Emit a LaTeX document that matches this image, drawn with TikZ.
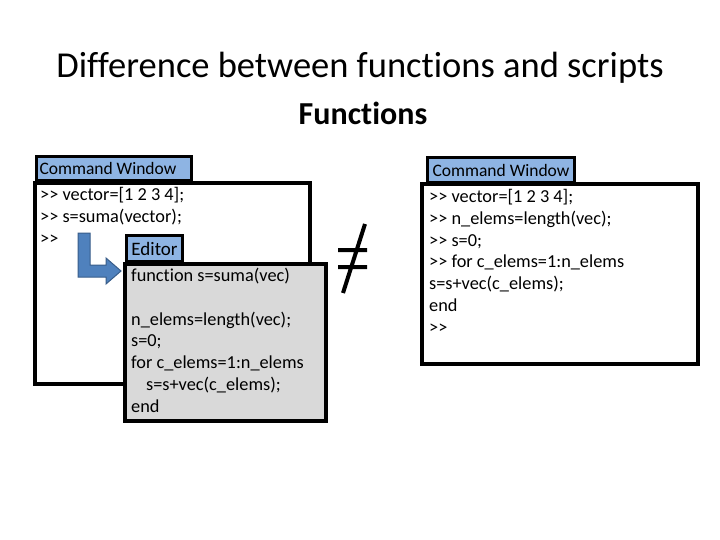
\documentclass[tikz,border=0pt]{standalone}
\usepackage{fontspec}
\setmainfont[Ligatures={NoCommon}]{Carlito}
\definecolor{lblue}{HTML}{8EB4E3}
\definecolor{egrey}{HTML}{D9D9D9}
\definecolor{arrblue}{HTML}{4F81BD}
\definecolor{arredge}{HTML}{385D8A}
\begin{document}
\begin{tikzpicture}[x=1pt,y=-1pt,
  win/.style={draw=black,line width=3.5pt},
  lbl/.style={draw=black,line width=3pt,fill=lblue,anchor=north west,inner sep=0pt,font=\fontsize{17.5}{18}\selectfont},
  code/.style={anchor=north west,align=left,font=\fontsize{18.3}{21.8}\selectfont,inner sep=0pt}]
\useasboundingbox (0,0) rectangle (720,540);
\node (title) at (360,68) {\fontsize{36.5}{40}\selectfont Difference between functions and scripts};
\node (sub) at (363,113) {\fontsize{32}{36}\selectfont\bfseries Functions};
% left command window
\draw[win,fill=white] (35,183) rectangle (310,384);
\node[lbl,minimum width=155pt,minimum height=24pt] (lcw) at (35,155) {\makebox[149pt][l]{Command Window}};
\node[code] (lcode) at (40,187) {>{}> vector=[1 2 3 4];\\>{}> s=suma(vector);\\>{}>};
% arrow
\draw[arredge,fill=arrblue,line width=1pt] (78,233) -- (90,233) -- (90,265) -- (106,265) -- (106,258) -- (121,271) -- (106,284) -- (106,277) -- (78,277) -- cycle;
% editor
\draw[win,fill=egrey] (125,264) rectangle (326,421);
\node[lbl,minimum width=56pt,minimum height=26pt] (ed) at (125,234) {\fontsize{19}{19}\selectfont Editor};
\node[code] (ecode) at (131,268) {function s=suma(vec)\\[21.8pt]n\_elems=length(vec);\\s=0;\\for c\_elems=1:n\_elems\\\hspace{15pt}s=s+vec(c\_elems);\\end};
% neq
\draw[line width=4pt] (338,250) -- (367,250) (338,267) -- (367,267) (365,224) -- (343,293);
% right window
\draw[win,fill=white] (422,184) rectangle (698,364);
\node[lbl,minimum width=147pt,minimum height=25pt] (rcw) at (426,156) {Command Window};
\node[code] (rcode) at (429,189) {>{}> vector=[1 2 3 4];\\>{}> n\_elems=length(vec);\\>{}> s=0;\\>{}> for c\_elems=1:n\_elems\\s=s+vec(c\_elems);\\end\\>{}>};
\end{tikzpicture}
\end{document}
